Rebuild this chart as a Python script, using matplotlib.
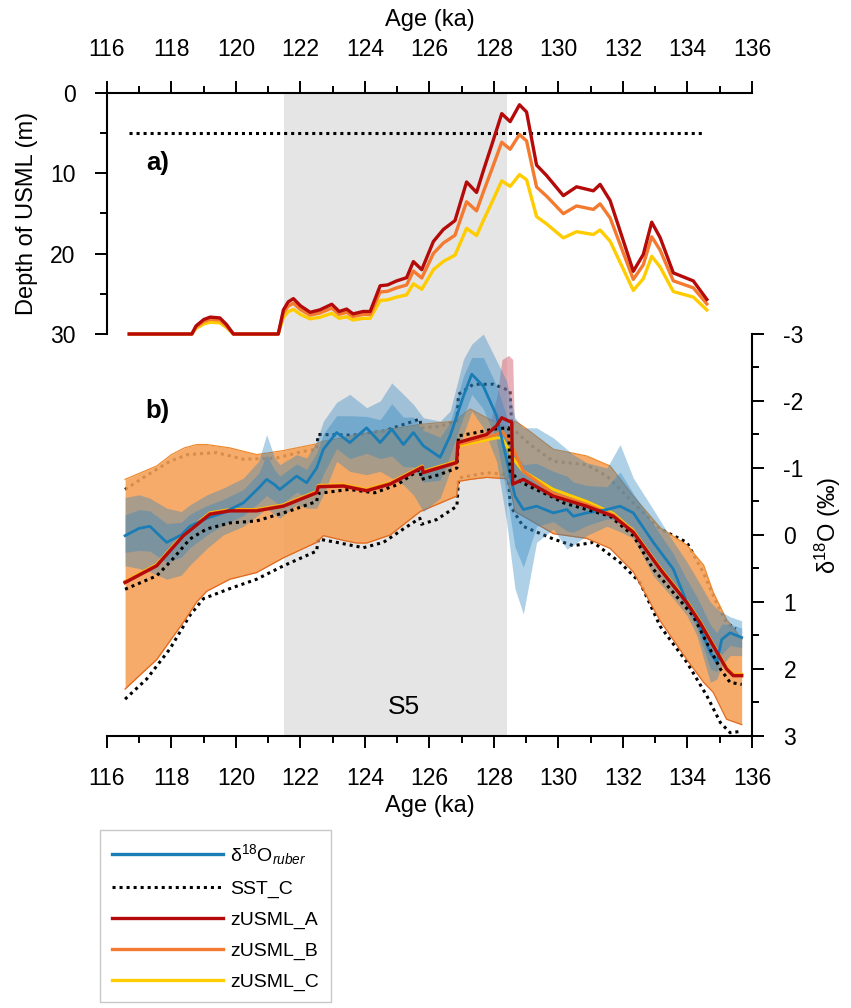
import matplotlib
matplotlib.use("Agg")
import matplotlib.pyplot as plt
from matplotlib.lines import Line2D
from matplotlib.ticker import MultipleLocator

plt.rcParams['font.family'] = ['Liberation Sans', 'DejaVu Sans']
plt.rcParams['mathtext.fontset'] = 'custom'
plt.rcParams['mathtext.rm'] = 'Liberation Sans'
plt.rcParams['mathtext.it'] = 'Liberation Sans:italic'
plt.rcParams['axes.unicode_minus'] = False

# ===== PANEL A: USML DEPTH (m) =====
usml_age = [116.69, 118.63, 118.76, 119.0, 119.2, 119.5, 119.7, 119.92, 121.31, 121.47,
            121.62, 121.78, 122.0, 122.3, 122.6, 122.97, 123.2, 123.43, 123.63, 123.94,
            124.16, 124.47, 124.7, 124.98, 125.29, 125.5, 125.76, 126.12, 126.43, 126.79,
            127.15, 127.46, 127.67, 127.93, 128.24, 128.5, 128.79, 129.01, 129.32, 129.63,
            130.15, 130.56, 131.08, 131.29, 131.6, 132.32, 132.63, 132.89, 133.15, 133.56,
            134.18, 134.6]
usml_a = [30, 30, 29.0, 28.2, 27.9, 28.0, 28.8, 30, 30, 27.0,
          26.0, 25.6, 26.5, 27.3, 27.0, 26.3, 27.2, 26.9, 27.5, 27.2,
          27.2, 24.0, 23.9, 23.4, 23.0, 21.0, 22.0, 18.5, 17.0, 15.9,
          11.1, 12.4, 9.7, 6.5, 2.6, 3.6, 1.5, 2.4, 9.0, 10.3,
          12.8, 11.7, 12.2, 11.4, 13.4, 22.2, 20.1, 16.1, 18.0, 22.4,
          23.4, 25.7]
usml_b = [30, 30, 29.13, 28.43, 28.17, 28.26, 28.96, 30, 30, 27.39,
          26.52, 26.17, 26.96, 27.65, 27.39, 26.78, 27.56, 27.3, 27.83, 27.56,
          27.56, 24.78, 24.69, 24.26, 23.91, 22.17, 23.04, 19.99, 18.69, 17.73,
          13.56, 14.69, 12.34, 9.56, 6.16, 7.03, 5.2, 5.99, 11.73, 12.86,
          15.04, 14.08, 14.51, 13.82, 15.56, 23.21, 21.39, 17.91, 19.56, 23.39,
          24.26, 26.26]
usml_c = [30, 30, 29.3, 28.75, 28.54, 28.61, 29.17, 30, 30, 27.92,
          27.22, 26.94, 27.57, 28.12, 27.92, 27.43, 28.05, 27.85, 28.26, 28.05,
          28.05, 25.83, 25.76, 25.41, 25.14, 23.75, 24.44, 22.01, 20.97, 20.2,
          16.86, 17.77, 15.89, 13.67, 10.96, 11.65, 10.19, 10.82, 15.4, 16.31,
          18.05, 17.28, 17.63, 17.07, 18.46, 24.58, 23.12, 20.34, 21.66, 24.72,
          25.41, 27.01]
ref_age = [116.69, 134.54]
ref_depth = [5, 5]

s5_span = (121.49, 128.41)

# ===== PANEL B: d18O =====
# zUSML envelope
band_age = [116.56, 117.0, 117.54, 118.0, 118.4, 118.78, 119.09, 119.81, 120.64, 121.47,
            122.5, 122.71, 123.33, 123.74, 124.05, 124.78, 125.71, 126.84, 126.9, 127.26,
            127.77, 128.39, 128.55, 128.65, 128.91, 129.84, 130.87, 131.6, 132.32, 133.15,
            133.98, 134.5, 134.8, 135.21, 135.68]
band_top = [-0.83, -0.92, -1.03, -1.2, -1.3, -1.35, -1.35, -1.3, -1.2, -1.26,
            -1.36, -1.4, -1.45, -1.5, -1.52, -1.58, -1.65, -1.7, -1.75, -1.88,
            -1.75, -1.6, -1.65, -1.7, -1.62, -1.28, -1.18, -1.03, -0.58, -0.11,
            0.15, 0.45, 0.86, 1.26, 1.55]
band_bot = [2.30, 2.1, 1.86, 1.55, 1.28, 1.0, 0.84, 0.66, 0.56, 0.34,
            0.11, 0.01, 0.08, 0.12, 0.12, 0.0, -0.35, -0.58, -0.8, -0.83,
            -0.86, -0.84, -0.6, -0.35, -0.28, -0.02, 0.05, 0.2, 0.55, 1.28,
            1.86, 2.2, 2.35, 2.75, 2.83]
pink_age = [127.9, 128.1, 128.25, 128.45, 128.58, 128.63]
pink_top = [-1.72, -2.1, -2.62, -2.68, -2.62, -1.65]
pink_bot = [-1.72, -1.68, -1.62, -1.6, -1.62, -1.65]

# SST_C
sst_mid_age = [116.56, 117.0, 117.54, 118.0, 118.57, 119.09, 119.81, 120.64, 121.67, 122.5,
               122.55, 123.5, 124.3, 125.0, 125.7, 125.75, 126.3, 126.85, 126.9, 127.36,
               127.98, 128.45, 128.5, 128.81, 129.12, 129.84, 130.15, 130.87, 131.6, 132.32,
               132.94, 133.56, 134.18, 134.6, 135.02, 135.32, 135.68]
sst_mid = [0.81, 0.72, 0.61, 0.38, 0.06, -0.09, -0.18, -0.21, -0.36, -0.5,
           -0.62, -0.68, -0.63, -0.75, -0.98, -0.83, -0.9, -1.0, -1.48, -1.52,
           -1.58, -1.6, -0.95, -0.8, -0.72, -0.56, -0.48, -0.38, -0.28, 0.01,
           0.51, 0.86, 1.21, 1.61, 2.0, 2.2, 2.23]
sst_hi_age = [116.56, 117.2, 117.95, 118.5, 119.4, 120.23, 121.26, 122.09, 122.5, 122.55,
              123.64, 124.57, 125.7, 125.75, 126.3, 126.85, 126.9, 127.36, 127.98, 128.5,
              128.55, 129.12, 129.84, 130.87, 131.5, 132.32, 133.15, 133.98, 134.49, 134.9,
              135.21, 135.5]
sst_hi = [-0.68, -0.88, -1.1, -1.2, -1.23, -1.13, -1.15, -1.25, -1.28, -1.5,
          -1.49, -1.55, -1.73, -1.6, -1.62, -1.7, -2.1, -2.25, -2.25, -2.15,
          -1.6, -1.35, -1.1, -1.05, -0.88, -0.48, -0.09, 0.11, 0.56, 1.01,
          1.31, 1.4]
sst_lo_age = [116.56, 117.23, 117.95, 118.57, 118.99, 119.81, 120.64, 121.47, 122.5, 122.55,
              123.12, 123.95, 124.57, 125.19, 125.7, 125.75, 126.22, 126.85, 126.9, 127.77,
              128.45, 128.5, 128.9, 129.84, 130.46, 131.08, 131.91, 132.53, 133.15, 133.98,
              134.6, 135.02, 135.32, 135.68]
sst_lo = [2.45, 2.15, 1.7, 1.2, 0.95, 0.8, 0.66, 0.46, 0.24, 0.06,
          0.11, 0.19, 0.11, -0.09, -0.25, -0.16, -0.23, -0.43, -0.85, -0.93,
          -0.9, -0.44, -0.13, 0.06, 0.16, 0.11, 0.41, 0.71, 1.36, 1.9,
          2.4, 2.8, 2.95, 2.93]

# zUSML lines
line_age = [116.56, 117.54, 118.37, 119.19, 119.81, 120.64, 121.47, 122.5, 122.55, 123.33,
            124.05, 124.78, 125.78, 125.8, 126.84, 126.88, 127.77, 128.08, 128.24, 128.55,
            128.58, 128.91, 129.84, 130.87, 131.7, 132.32, 133.15, 133.98, 134.39, 135.21,
            135.42, 135.68]
line_a = [0.71, 0.46, 0.01, -0.31, -0.36, -0.36, -0.43, -0.63, -0.72, -0.73,
          -0.66, -0.76, -1.01, -0.93, -1.08, -1.38, -1.5, -1.63, -1.75, -1.68,
          -0.76, -0.83, -0.58, -0.43, -0.28, -0.04, 0.51, 1.01, 1.31, 2.0,
          2.1, 2.1]
line_b = [0.7, 0.45, 0.0, -0.32, -0.37, -0.37, -0.44, -0.64, -0.73, -0.74,
          -0.67, -0.77, -1.02, -0.94, -1.09, -1.35, -1.46, -1.5, -1.55, -1.38,
          -1.3, -0.95, -0.62, -0.46, -0.3, -0.05, 0.5, 1.0, 1.3, 1.99,
          2.09, 2.09]
line_c = [0.69, 0.44, -0.01, -0.33, -0.38, -0.38, -0.45, -0.65, -0.74, -0.75,
          -0.68, -0.78, -1.03, -0.95, -1.1, -1.33, -1.42, -1.45, -1.45, -1.2,
          -1.15, -0.95, -0.68, -0.5, -0.32, -0.06, 0.49, 0.99, 1.29, 1.98,
          2.08, 2.08]

# d18O ruber
blue_age = [116.56, 117.0, 117.33, 117.85, 118.3, 118.57, 119.1, 119.6, 120.23, 120.7,
            120.95, 121.2, 121.36, 121.88, 122.19, 122.5, 122.71, 123.12, 123.53, 124.05,
            124.47, 124.83, 125.19, 125.5, 125.81, 126.33, 126.64, 127.05, 127.31, 127.67,
            128.08, 128.39, 128.65, 128.91, 129.32, 129.84, 130.26, 130.46, 130.87, 131.5,
            131.91, 132.32, 132.94, 133.56, 133.98, 134.29, 134.71, 134.91, 135.06, 135.32,
            135.68]
blue_mid = [0.01, -0.1, -0.13, 0.11, 0.0, -0.13, -0.25, -0.33, -0.48, -0.7,
            -0.83, -0.75, -0.68, -0.88, -0.78, -1.0, -1.28, -1.53, -1.38, -1.6,
            -1.38, -1.58, -1.35, -1.53, -1.33, -1.16, -1.48, -2.07, -2.40, -2.22,
            -1.78, -1.13, -0.58, -0.38, -0.43, -0.33, -0.38, -0.28, -0.33, -0.38,
            -0.43, -0.33, 0.11, 0.51, 1.01, 1.26, 1.76, 1.9, 1.56, 1.46,
            1.53]
blue_out_top = [-0.56, -0.6, -0.55, -0.4, -0.35, -0.45, -0.6, -0.7, -0.85, -1.1,
                -1.5, -1.15, -1.05, -1.2, -1.15, -1.4, -1.7, -1.98, -2.1, -1.9,
                -2.0, -2.27, -2.1, -1.95, -1.75, -1.7, -1.85, -2.62, -2.85, -3.0,
                -2.6, -2.3, -1.75, -1.6, -1.6, -1.45, -1.28, -1.2, -1.08, -1.0,
                -1.35, -0.85, -0.38, 0.1, 0.4, 0.65, 1.0, 1.1, 1.15, 1.22,
                1.28]
blue_out_bot = [0.46, 0.5, 0.55, 0.66, 0.6, 0.45, 0.2, 0.0, -0.13, -0.3,
                -0.4, -0.3, -0.25, -0.45, -0.4, -0.4, -0.6, -1.1, -0.95, -0.9,
                -0.95, -0.85, -0.75, -0.6, -0.35, -0.55, -0.95, -1.5, -1.85, -1.6,
                -1.1, -0.2, 0.8, 1.18, 0.11, -0.09, 0.21, 0.15, 0.01, -0.13,
                -0.05, 0.05, 0.61, 0.95, 1.2, 1.5, 2.2, 2.15, 1.96, 1.8,
                1.8]
blue_in_top = [-0.30, -0.38, -0.36, -0.17, -0.19, -0.31, -0.44, -0.53, -0.68, -0.92,
               -1.2, -0.97, -0.88, -1.06, -0.98, -1.22, -1.51, -1.78, -1.78, -1.77,
               -1.72, -1.96, -1.76, -1.76, -1.56, -1.46, -1.68, -2.37, -2.65, -2.65,
               -2.23, -1.77, -1.22, -1.05, -1.07, -0.95, -0.88, -0.79, -0.74, -0.72,
               -0.94, -0.62, -0.16, 0.28, 0.67, 0.92, 1.34, 1.46, 1.33, 1.33,
               1.39]
blue_in_bot = [0.26, 0.23, 0.24, 0.41, 0.33, 0.19, 0.0, -0.15, -0.29, -0.48,
               -0.59, -0.5, -0.44, -0.64, -0.57, -0.67, -0.91, -1.29, -1.14, -1.22,
               -1.14, -1.18, -1.02, -1.02, -0.79, -0.82, -1.19, -1.76, -2.1, -1.88,
               -1.41, -0.62, 0.18, 0.48, -0.13, -0.2, -0.06, -0.04, -0.14, -0.24,
               -0.22, -0.12, 0.39, 0.75, 1.11, 1.39, 2.0, 2.04, 1.78, 1.65,
               1.68]

# ===== STYLE =====
RED = "#b40a0a"
ORANGE = "#f47a30"
YELLOW = "#ffcc00"
BLUE = "#1b7db6"
BLUE_BAND = "#2e86c1"
DOTS = (0, (1, 1.3))

W, H = 851, 1008
fig = plt.figure(figsize=(W / 100, H / 100), dpi=100)


def px_box(x0, y0, x1, y1):
    return [x0 / W, 1 - y1 / H, (x1 - x0) / W, (y1 - y0) / H]


ax_a = fig.add_axes(px_box(107, 92.7, 752, 334))
ax_b = fig.add_axes(px_box(107, 334, 752, 736))
for ax in (ax_a, ax_b):
    ax.set_facecolor("none")
    ax.set_xlim(116, 136)
    ax.xaxis.set_major_locator(MultipleLocator(2))
    ax.xaxis.set_minor_locator(MultipleLocator(1))
    ax.axvspan(*s5_span, color="#e5e5e5", lw=0, zorder=0)
    for sp in ax.spines.values():
        sp.set_linewidth(1.5)
    ax.tick_params(which="major", direction="out", length=8.6, width=1.4, pad=14, labelsize=16.5)
    ax.tick_params(which="minor", direction="out", length=5, width=1.4)

# ===== PANEL A =====
ax_a.set_ylim(30, 0)
ax_a.yaxis.set_major_locator(MultipleLocator(10))
ax_a.yaxis.set_minor_locator(MultipleLocator(5))
ax_a.spines["bottom"].set_visible(False)
ax_a.spines["right"].set_visible(False)
ax_a.xaxis.tick_top()
ax_a.tick_params(axis="x", which="both", top=True, bottom=False, labeltop=True, labelbottom=False)
ax_a.plot(ref_age, ref_depth, ls=DOTS, lw=2.2, color="black", zorder=2)
ax_a.plot(usml_age, usml_c, color=YELLOW, lw=2.4, zorder=3, clip_on=False)
ax_a.plot(usml_age, usml_b, color=ORANGE, lw=2.4, zorder=4, clip_on=False)
ax_a.plot(usml_age, usml_a, color=RED, lw=2.4, zorder=5, clip_on=False)
ax_a.text(117.57, 8.7, "a)", fontsize=18.5, fontweight="bold", ha="center", va="center")

# ===== PANEL B =====
ax_b.set_ylim(3, -3)
ax_b.yaxis.set_major_locator(MultipleLocator(1))
ax_b.yaxis.set_minor_locator(MultipleLocator(0.5))
ax_b.spines["top"].set_visible(False)
ax_b.spines["left"].set_visible(False)
ax_b.yaxis.tick_right()
ax_b.tick_params(axis="y", which="both", left=False, right=True, labelleft=False, labelright=True)

ax_b.plot(sst_hi_age, sst_hi, ls=DOTS, lw=2.2, color="black", zorder=1)
ax_b.plot(sst_lo_age, sst_lo, ls=DOTS, lw=2.2, color="black", zorder=1, clip_on=False)
ax_b.fill_between(band_age, band_top, band_bot, color="#f5a055", alpha=0.88, lw=0, zorder=2)
ax_b.plot(band_age, band_top, color="#ee8a2e", lw=0.9, zorder=2.1)
ax_b.plot(band_age, band_bot, color="#e06a20", lw=0.9, zorder=2.1)
ax_b.fill_between(pink_age, pink_top, pink_bot, color="#d9707c", alpha=0.55, lw=0, zorder=2.2)
ax_b.fill_between(blue_age, blue_out_top, blue_out_bot, color=BLUE_BAND, alpha=0.38, lw=0,
                  zorder=3, clip_on=False)
ax_b.fill_between(blue_age, blue_in_top, blue_in_bot, color=BLUE_BAND, alpha=0.38, lw=0, zorder=3.1)
ax_b.plot(line_age, line_c, color=YELLOW, lw=2.2, zorder=4)
ax_b.plot(line_age, line_b, color=ORANGE, lw=2.2, zorder=4.1)
ax_b.plot(blue_age, blue_mid, color=BLUE, lw=2.0, zorder=4.5)
ax_b.plot(sst_mid_age, sst_mid, ls=DOTS, lw=2.2, color="black", zorder=5)
ax_b.plot(line_age, line_a, color=RED, lw=2.4, zorder=6)
ax_b.text(117.55, -1.85, "b)", fontsize=18.5, fontweight="bold", ha="center", va="center")
ax_b.text(125.2, 2.57, "S5", fontsize=19, ha="center", va="center")

# ===== LABELS =====
fig.text(429.5 / W, 1 - 20 / H, "Age (ka)", fontsize=17, ha="center", va="center")
fig.text(429.5 / W, 1 - 806 / H, "Age (ka)", fontsize=17, ha="center", va="center")
fig.text(27 / W, 1 - 213 / H, "Depth of USML (m)", fontsize=17, rotation=90, ha="center", va="center")
fig.text(828 / W, 1 - 525 / H, r"δ$^{18}$O (‰)", fontsize=17, rotation=90, ha="center", va="center")

# ===== LEGEND =====
handles = [
    Line2D([], [], color=BLUE, lw=2.4, label=r"δ$^{18}$O$_{\mathit{ruber}}$"),
    Line2D([], [], color="black", lw=2.2, ls=DOTS, label="SST_C"),
    Line2D([], [], color=RED, lw=2.4, label="zUSML_A"),
    Line2D([], [], color=ORANGE, lw=2.4, label="zUSML_B"),
    Line2D([], [], color=YELLOW, lw=2.4, label="zUSML_C"),
]
leg = fig.legend(handles=handles, loc="upper left", bbox_to_anchor=(100 / W, 1 - 830 / H),
                 frameon=True, fancybox=False, edgecolor="#bbbbbb", fontsize=14,
                 handlelength=5.7, handletextpad=0.4, labelspacing=0.68, borderpad=0.6,
                 borderaxespad=0)
leg.get_frame().set_linewidth(1.0)

fig.savefig("out.png", dpi=100)
